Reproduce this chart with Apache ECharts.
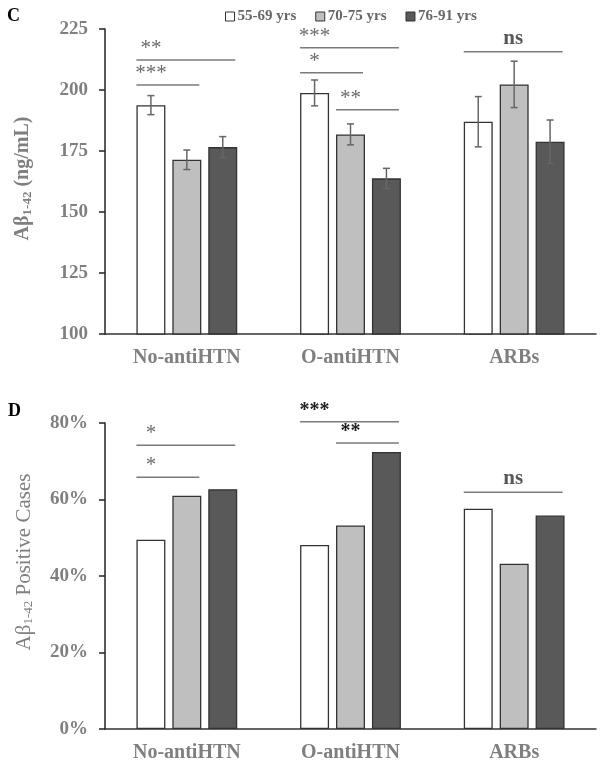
<!DOCTYPE html>
<html><head><meta charset="utf-8">
<script src="https://cdn.jsdelivr.net/npm/echarts@6/dist/echarts.min.js"></script>
<style>html,body{margin:0;padding:0;background:#fff}#c{width:604px;height:768px}</style>
</head><body><div id="c"></div>
<script>
const categories = ['No-antiHTN', 'O-antiHTN', 'ARBs'];
const groups = ['55-69 yrs', '70-75 yrs', '76-91 yrs'];
// Panel C: Aβ1-42 (ng/mL), mean and error
const conc55 = [193.8, 198.8, 187.0];
const conc70 = [171.4, 181.8, 202.3];
const conc76 = [176.6, 163.8, 178.8];
const concErr55 = [3.9, 5.3, 10.3];
const concErr70 = [4.0, 4.3, 9.5];
const concErr76 = [4.3, 4.1, 8.9];
const concTicks = [100, 125, 150, 175, 200, 225];
// Panel D: Aβ1-42 positive cases (%)
const pos55 = [49.5, 48.1, 57.6];
const pos70 = [61.0, 53.2, 43.2];
const pos76 = [62.7, 72.4, 55.8];
const posTicks = [0, 20, 40, 60, 80];
// significance brackets: [category, fromGroup, toGroup, level]
const concSig = [[0, 0, 2, 212.3], [0, 0, 1, 202.0], [1, 0, 2, 217.3], [1, 0, 1, 207.1], [1, 1, 2, 191.9], [2, 0, 2, 215.7]];
const concSigLabels = ['**', '***', '***', '*', '**', 'ns'];
const posSig = [[0, 0, 2, 74.2], [0, 0, 1, 65.8], [1, 0, 2, 80.3], [1, 1, 2, 74.8], [2, 0, 2, 61.9]];
const posSigLabels = ['*', '*', '***', '**', 'ns'];
const posSigDark = [false, false, true, true, false];

const SERIF = '"Liberation Serif", "Times New Roman", serif';
const fills = ['#ffffff', '#bfbfbf', '#595959'];
const BW = 0.177, STEP = 1.24;

function barSeries(name, data, idx, ax) {
  return {
    type: 'bar', name: name, data: data, xAxisIndex: ax, yAxisIndex: ax,
    barWidth: (BW * 100) + '%', barGap: ((STEP - 1) * 100) + '%',
    itemStyle: { color: fills[idx], borderColor: '#333', borderWidth: 1.3 },
    z: 2
  };
}
function errData(means, errs, g) {
  return means.map((m, i) => [i, g, m, errs[i]]);
}
const errSeries = {
  type: 'custom', xAxisIndex: 0, yAxisIndex: 0, z: 5, silent: true,
  data: [].concat(errData(conc55, concErr55, 0), errData(conc70, concErr70, 1), errData(conc76, concErr76, 2)),
  encode: { x: 0, y: 2 },
  renderItem: function (params, api) {
    const cat = api.value(0), g = api.value(1), m = api.value(2), e = api.value(3);
    const band = api.size([1, 0])[0];
    const w = band * BW;
    const c = api.coord([cat, m]);
    const x = c[0] + (g - 1) * w * STEP;
    const top = api.coord([cat, m + e])[1], bot = api.coord([cat, m - e])[1];
    const cap = 3.5;
    const st = { stroke: '#666', lineWidth: 1.5 };
    return { type: 'group', children: [
      { type: 'line', shape: { x1: x, y1: top, x2: x, y2: bot }, style: st },
      { type: 'line', shape: { x1: x - cap, y1: top, x2: x + cap, y2: top }, style: st },
      { type: 'line', shape: { x1: x - cap, y1: bot, x2: x + cap, y2: bot }, style: st }
    ] };
  }
};
function sigSeries(data, labels, ax, dark) {
  return {
    type: 'custom', xAxisIndex: ax, yAxisIndex: ax, z: 6, silent: true, clip: false,
    data: data, encode: { x: 0, y: 3 },
    renderItem: function (params, api) {
      const cat = api.value(0), g0 = api.value(1), g1 = api.value(2), yv = api.value(3);
      const band = api.size([1, 0])[0];
      const w = band * BW;
      const c = api.coord([cat, yv]);
      const x0 = c[0] + (g0 - 1) * w * STEP - w / 2;
      const x1 = c[0] + (g1 - 1) * w * STEP + w / 2 - 2;
      const lab = labels[params.dataIndex];
      const isNs = lab === 'ns';
      const tx = isNs ? (x0 + x1) / 2 : c[0] + (g0 - 1) * w * STEP;
      const darkTxt = dark && dark[params.dataIndex];
      return { type: 'group', children: [
        { type: 'line', shape: { x1: x0, y1: c[1], x2: x1, y2: c[1] }, style: { stroke: '#7a7a7a', lineWidth: 1.5 } },
        { type: 'text', x: tx, y: isNs ? c[1] - 3 : c[1] - 1, style: {
          text: lab, align: 'center', verticalAlign: 'bottom',
          font: (isNs ? 'bold 21px ' : (darkTxt ? 'bold 20px ' : '21px ')) + SERIF,
          fill: isNs ? '#595959' : (darkTxt ? '#222' : '#6a6a6a')
        } }
      ] };
    }
  };
}

const axisLabelStyle = { fontFamily: SERIF, fontWeight: 'bold', fontSize: 19, color: '#7f7f7f' };
const catLabelStyle = { fontFamily: SERIF, fontWeight: 'bold', fontSize: 20, color: '#7f7f7f', margin: 14 };

function xAx(gi) {
  return {
    type: 'category', data: categories, gridIndex: gi,
    axisLine: { onZero: false, lineStyle: { color: '#333', width: 1.5 } },
    axisTick: { show: false },
    axisLabel: catLabelStyle
  };
}

const option = {
  animation: false,
  backgroundColor: '#fff',
  grid: [
    { left: 105, right: 8, top: 29, bottom: 768 - 334 },
    { left: 105, right: 8, top: 423, bottom: 768 - 729 }
  ],
  legend: {
    data: groups, left: 220, top: 4, icon: 'rect', itemWidth: 9, itemHeight: 9, itemGap: 19,
    itemStyle: { borderColor: '#333', borderWidth: 1 },
    textStyle: { fontFamily: SERIF, fontWeight: 'bold', fontSize: 15, color: '#666', padding: [0, 0, 0, -2] }
  },
  xAxis: [xAx(0), xAx(1)],
  yAxis: [
    {
      type: 'value', gridIndex: 0, min: concTicks[0], max: concTicks[concTicks.length - 1], interval: concTicks[1] - concTicks[0],
      axisLine: { show: true, lineStyle: { color: '#222', width: 1.5 } },
      axisTick: { show: true, length: 6, lineStyle: { color: '#222', width: 1.5 } },
      splitLine: { show: false },
      axisLabel: Object.assign({ margin: 17 }, axisLabelStyle),
      name: '{a|Aβ}{s|1-42}{a| (ng/mL)}', nameLocation: 'middle', nameRotate: 90, nameGap: 71,
      nameTextStyle: { padding: [0, 0, 0, 6], rich: {
        a: { fontFamily: SERIF, fontWeight: 'bold', fontSize: 20, color: '#7f7f7f', lineHeight: 22 },
        s: { fontFamily: SERIF, fontWeight: 'bold', fontSize: 13, color: '#7f7f7f', lineHeight: 22, verticalAlign: 'bottom', padding: [6, 0, 0, 0] }
      } }
    },
    {
      type: 'value', gridIndex: 1, min: posTicks[0], max: posTicks[posTicks.length - 1], interval: posTicks[1] - posTicks[0],
      axisLine: { show: true, lineStyle: { color: '#222', width: 1.5 } },
      axisTick: { show: true, length: 6, lineStyle: { color: '#222', width: 1.5 } },
      splitLine: { show: false },
      axisLabel: Object.assign({ margin: 17, formatter: '{value}%' }, axisLabelStyle),
      name: '{a|Aβ}{s|1-42}{a| Positive Cases}', nameLocation: 'middle', nameRotate: 90, nameGap: 70,
      nameTextStyle: { padding: [0, 0, 0, 28], rich: {
        a: { fontFamily: SERIF, fontSize: 21, color: '#7f7f7f', lineHeight: 22 },
        s: { fontFamily: SERIF, fontSize: 13, color: '#7f7f7f', lineHeight: 22, verticalAlign: 'bottom', padding: [6, 0, 0, 0] }
      } }
    }
  ],
  graphic: [
    { type: 'text', left: 7, top: 7, style: { text: 'C', font: 'bold 18px ' + SERIF, fill: '#000' } },
    { type: 'text', left: 8, top: 402, style: { text: 'D', font: 'bold 18px ' + SERIF, fill: '#000' } }
  ],
  series: [
    barSeries(groups[0], conc55, 0, 0),
    barSeries(groups[1], conc70, 1, 0),
    barSeries(groups[2], conc76, 2, 0),
    errSeries,
    sigSeries(concSig, concSigLabels, 0, null),
    barSeries(groups[0], pos55, 0, 1),
    barSeries(groups[1], pos70, 1, 1),
    barSeries(groups[2], pos76, 2, 1),
    sigSeries(posSig, posSigLabels, 1, posSigDark)
  ]
};
const chart = echarts.init(document.getElementById('c'), null, { renderer: 'canvas' });
chart.setOption(option);
</script>
</body></html>
